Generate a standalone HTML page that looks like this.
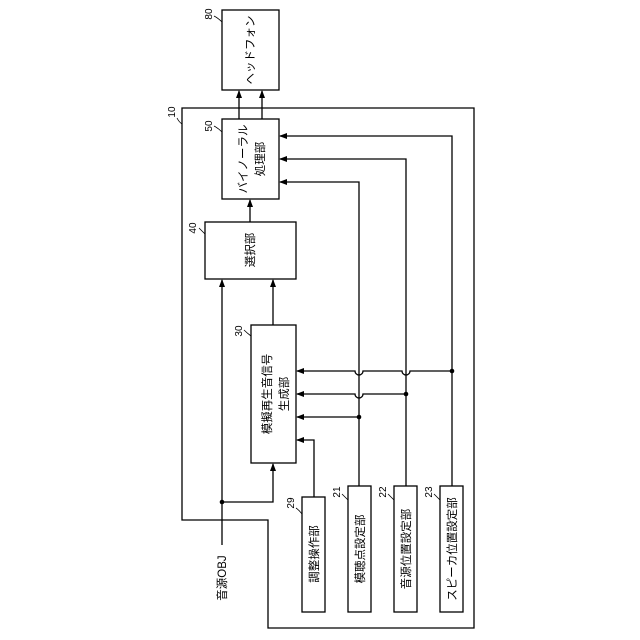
<!DOCTYPE html>
<html><head><meta charset="utf-8"><style>body{margin:0;background:#fff}svg{display:block}</style></head><body>
<svg width="640" height="640" viewBox="0 0 640 640" xmlns="http://www.w3.org/2000/svg" font-family="Liberation Sans, Noto Sans CJK JP, sans-serif" font-size="11.5" fill="none" stroke="#000" stroke-width="1.3">
<defs><marker id="a" markerWidth="8" markerHeight="8" refX="7" refY="4" orient="auto" markerUnits="userSpaceOnUse"><path d="M0,1 L8,4 L0,7 Z" fill="#000" stroke="none"/></marker></defs>
<!-- outer 10 -->
<path d="M182,108 H474 V628 H268 V520 H182 Z"/>
<!-- boxes -->
<rect x="222" y="10" width="57" height="80"/>
<rect x="222" y="119" width="57" height="80"/>
<rect x="205" y="222" width="91" height="57"/>
<rect x="251" y="325" width="45" height="138"/>
<rect x="302" y="497" width="23" height="115"/>
<rect x="348" y="486" width="23" height="126"/>
<rect x="394" y="486" width="23" height="126"/>
<rect x="440" y="486" width="23" height="126"/>
<!-- arrows -->
<line x1="239" y1="119" x2="239" y2="91" marker-end="url(#a)"/>
<line x1="262" y1="119" x2="262" y2="91" marker-end="url(#a)"/>
<line x1="250" y1="222" x2="250" y2="200" marker-end="url(#a)"/>
<line x1="273" y1="325" x2="273" y2="280" marker-end="url(#a)"/>
<path d="M452,486 V136 H280" marker-end="url(#a)"/>
<path d="M406,486 V159 H280" marker-end="url(#a)"/>
<path d="M359,486 V182 H280" marker-end="url(#a)"/>
<path d="M452,371 H410 a4,4 0 0 1 -8,0 H363 a4,4 0 0 1 -8,0 H297" marker-end="url(#a)"/>
<path d="M406,394 H363 a4,4 0 0 1 -8,0 H297" marker-end="url(#a)"/>
<path d="M359,417 H297" marker-end="url(#a)"/>
<path d="M314,497 V440 H297" marker-end="url(#a)"/>
<path d="M222,545 V280" marker-end="url(#a)"/>
<path d="M222,502 H273 V464" marker-end="url(#a)"/>
<g fill="#000" stroke="none">
<circle cx="452" cy="371" r="2.3"/><circle cx="406" cy="394" r="2.3"/><circle cx="359" cy="417" r="2.3"/><circle cx="222" cy="502" r="2.3"/>
</g>
<!-- leader squiggles -->
<g stroke-width="0.8">
<path d="M214,16 q4,2 8,6"/><path d="M177,118 q2,4 5,6"/><path d="M214,126 q4,2 8,6"/><path d="M199,228 q3,3 6,6"/><path d="M244,330 q3,3 7,6"/><path d="M296,508 q3,2 6,6"/><path d="M342,494 q3,3 6,6"/><path d="M388,494 q3,3 6,6"/><path d="M434,494 q3,3 6,6"/>
</g>
<g fill="#000" stroke="none" text-anchor="middle">
<text transform="translate(254,50) rotate(-90)">ヘッドフォン</text>
<text transform="translate(247,159) rotate(-90)">バイノーラル</text>
<text transform="translate(264,159) rotate(-90)">処理部</text>
<text transform="translate(254,250) rotate(-90)">選択部</text>
<text transform="translate(271,394) rotate(-90)">模擬再生音信号</text>
<text transform="translate(288,394) rotate(-90)">生成部</text>
<text transform="translate(318,554) rotate(-90)">調整操作部</text>
<text transform="translate(364,549) rotate(-90)">模聴点設定部</text>
<text transform="translate(410,549) rotate(-90)">音源位置設定部</text>
<text transform="translate(456,549) rotate(-90)">スピーカ位置設定部</text>
<text transform="translate(226,578) rotate(-90)">音源OBJ</text>
<g font-size="10">
<text transform="translate(212,14) rotate(-90)">80</text>
<text transform="translate(175,112) rotate(-90)">10</text>
<text transform="translate(212,126) rotate(-90)">50</text>
<text transform="translate(196,228) rotate(-90)">40</text>
<text transform="translate(242,331) rotate(-90)">30</text>
<text transform="translate(294,503) rotate(-90)">29</text>
<text transform="translate(340,492) rotate(-90)">21</text>
<text transform="translate(386,492) rotate(-90)">22</text>
<text transform="translate(432,492) rotate(-90)">23</text>
</g>
</g>
</svg>
</body></html>
